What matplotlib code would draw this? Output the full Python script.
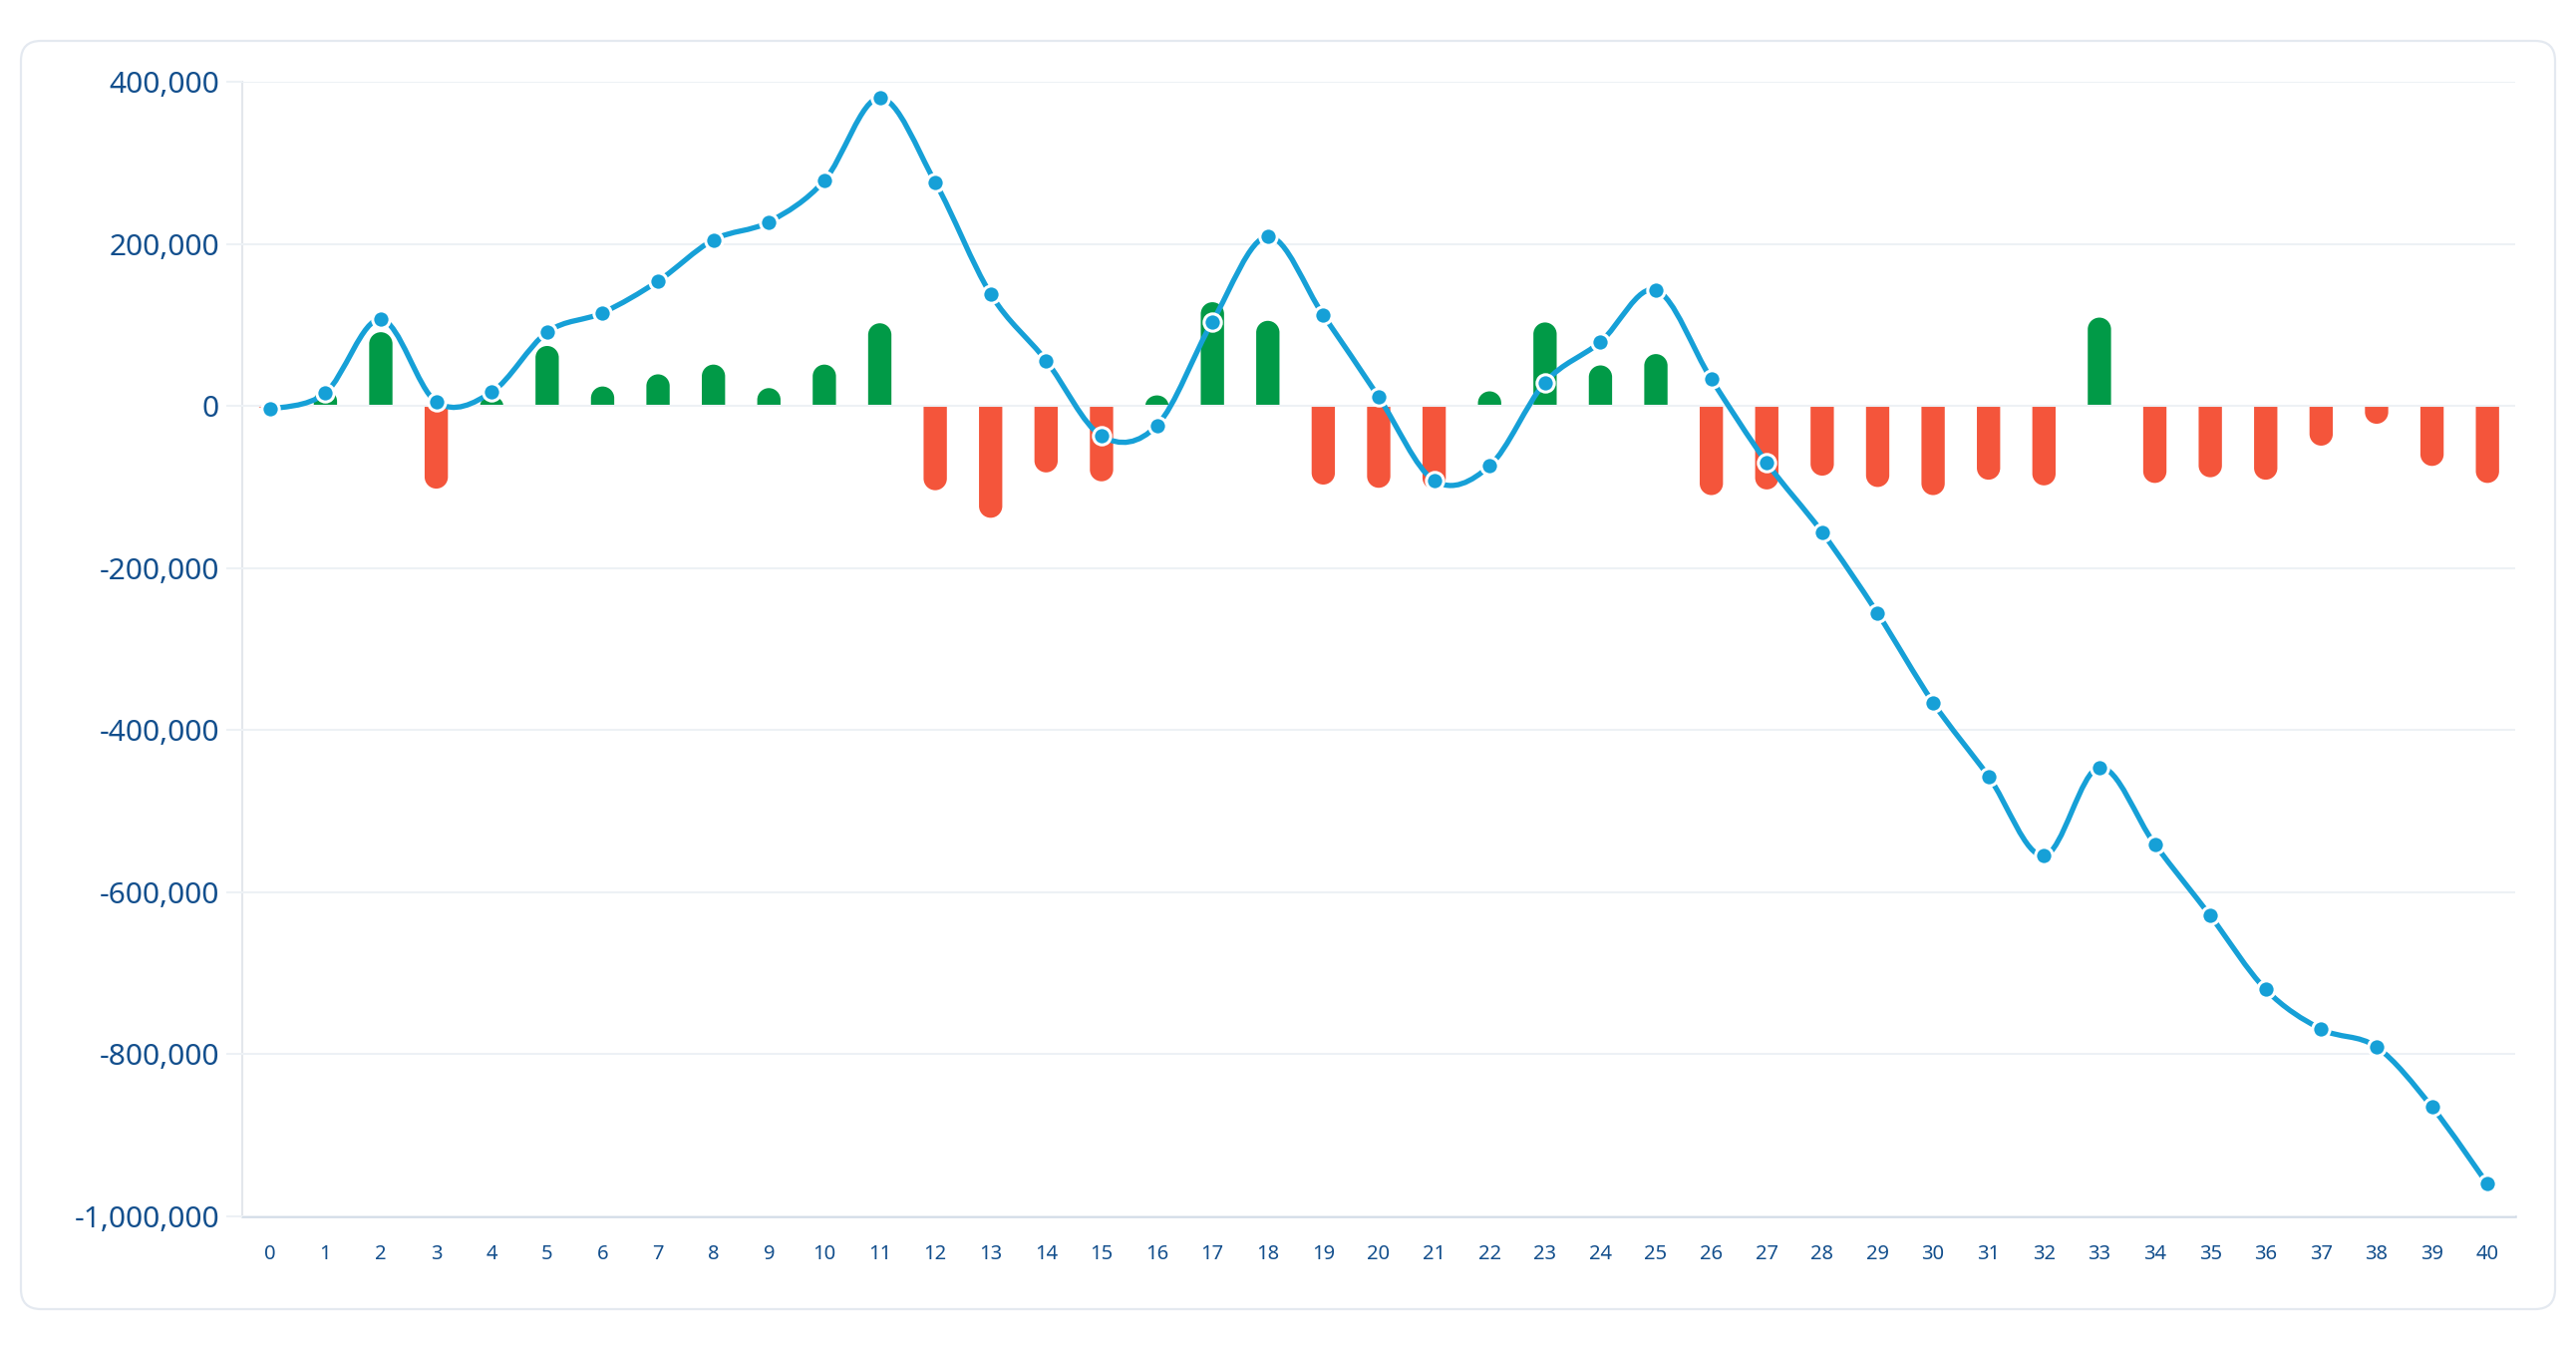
import matplotlib
matplotlib.use("Agg")
import matplotlib.pyplot as plt
import numpy as np
from matplotlib.patches import FancyBboxPatch, PathPatch
from matplotlib.path import Path
from matplotlib.ticker import FuncFormatter

# ── data (values in units) ──────────────────────────────────────────────────
days = list(range(41))
net_flow = [-4, 20, 91, -102, 12, 74, 24, 39, 51, 22, 51, 102, -104, -138, -82,
            -93, 13, 128, 105, -97, -101, -103, 18, 103, 50, 64, -110, -103, -86,
            -100, -110, -91, -98, 109, -95, -88, -91, -49, -22, -74, -95]
balance = [-4, 16, 107, 5, 17, 91, 115, 154, 205, 227, 278, 380, 276, 138, 56,
           -37, -24, 104, 209, 112, 11, -92, -74, 29, 79, 143, 33, -70, -156,
           -256, -366, -457, -555, -446, -541, -629, -720, -769, -791, -865, -960]
net_flow = [v * 1000 for v in net_flow]
balance = [v * 1000 for v in balance]
y_ticks = [400000, 200000, 0, -200000, -400000, -600000, -800000, -1000000]

GREEN = "#019a47"
RED = "#f4553b"
BLUE = "#16a0d7"
LABEL = "#134f8d"
GRID = "#edf1f5"

plt.rcParams["font.family"] = ["Noto Sans", "DejaVu Sans"]

W, H, DPI = 2584, 1354, 100
fig = plt.figure(figsize=(W / DPI, H / DPI), dpi=DPI, facecolor="white")

# card frame
card = FancyBboxPatch((21 / DPI, 41 / DPI), 2542 / DPI, 1272 / DPI,
                      boxstyle="round,pad=0,rounding_size=0.2",
                      transform=fig.dpi_scale_trans, facecolor="white",
                      edgecolor="#e4e9f0", linewidth=1.6, zorder=-5)
fig.patches.append(card)

ax_l, ax_r, ax_t, ax_b = 243, 2523, 82, 1220
ax = fig.add_axes([ax_l / W, 1 - ax_b / H, (ax_r - ax_l) / W, (ax_b - ax_t) / H])
ax.set_zorder(2)
ax.set_facecolor("none")
ax.set_xlim(-0.5, 40.5)
ax.set_ylim(-1000000, 400000)

# ── bars with rounded far end ───────────────────────────────────────────────
px_x = (ax_r - ax_l) / 41.0           # pixels per x unit
px_y = (ax_b - ax_t) / 1400000.0      # pixels per y unit
bar_w = 0.42
hw = bar_w / 2
r_px = hw * px_x
k = 0.5523
for x, v in zip(days, net_flow):
    if v == 0:
        continue
    s = 1 if v > 0 else -1
    ry = min(r_px / px_y, abs(v))
    base = v - s * ry
    verts = [(x - hw, 0), (x - hw, base),
             (x - hw, base + s * k * ry), (x - k * hw, v), (x, v),
             (x + k * hw, v), (x + hw, base + s * k * ry), (x + hw, base),
             (x + hw, 0), (x - hw, 0)]
    codes = [Path.MOVETO, Path.LINETO,
             Path.CURVE4, Path.CURVE4, Path.CURVE4,
             Path.CURVE4, Path.CURVE4, Path.CURVE4,
             Path.LINETO, Path.CLOSEPOLY]
    ax.add_patch(PathPatch(Path(verts, codes), facecolor=GREEN if v > 0 else RED,
                           edgecolor="none", zorder=2))

# ── smooth balance line (Catmull-Rom as cubic Bezier) ────────────────────────
xs = np.array(days, dtype=float)
ys = np.array(balance, dtype=float)
n = len(xs)
verts = [(xs[0], ys[0])]
codes = [Path.MOVETO]
for i in range(n - 1):
    i0, i2, i3 = max(i - 1, 0), i + 1, min(i + 2, n - 1)
    c1 = (xs[i] + (xs[i2] - xs[i0]) / 6, ys[i] + (ys[i2] - ys[i0]) / 6)
    c2 = (xs[i2] - (xs[i3] - xs[i]) / 6, ys[i2] - (ys[i3] - ys[i]) / 6)
    verts += [c1, c2, (xs[i2], ys[i2])]
    codes += [Path.CURVE4] * 3
ax.add_patch(PathPatch(Path(verts, codes), facecolor="none", edgecolor=BLUE,
                       linewidth=3.8, capstyle="round", joinstyle="round", zorder=4))
ax.plot(days, balance, linestyle="none", marker="o", markersize=12.5,
        markerfacecolor=BLUE, markeredgecolor="white", markeredgewidth=2.2, zorder=5)

# ── axes styling ─────────────────────────────────────────────────────────────
ax.set_yticks(y_ticks)
ax.yaxis.set_major_formatter(FuncFormatter(lambda v, p: f"{int(v):,}"))
ax.set_xticks(days)
ax.grid(axis="y", color=GRID, linewidth=1.5, zorder=3)
ax.grid(axis="x", visible=False)
ax.set_axisbelow(False)
for g in ax.get_ygridlines():
    g.set_zorder(3)
ax.tick_params(axis="y", length=11.5, width=1.5, color=GRID, pad=5,
               labelsize=21.5, labelcolor=LABEL)
ax.tick_params(axis="x", length=0, pad=20, labelsize=14.5, labelcolor=LABEL)
for side in ("top", "right"):
    ax.spines[side].set_visible(False)
ax.spines["left"].set_color("#e3e7ec")
ax.spines["left"].set_linewidth(1.5)
ax.spines["bottom"].set_color("#d1dbe6")
ax.spines["bottom"].set_linewidth(1.8)

fig.savefig("out.png", dpi=DPI, facecolor="white")
